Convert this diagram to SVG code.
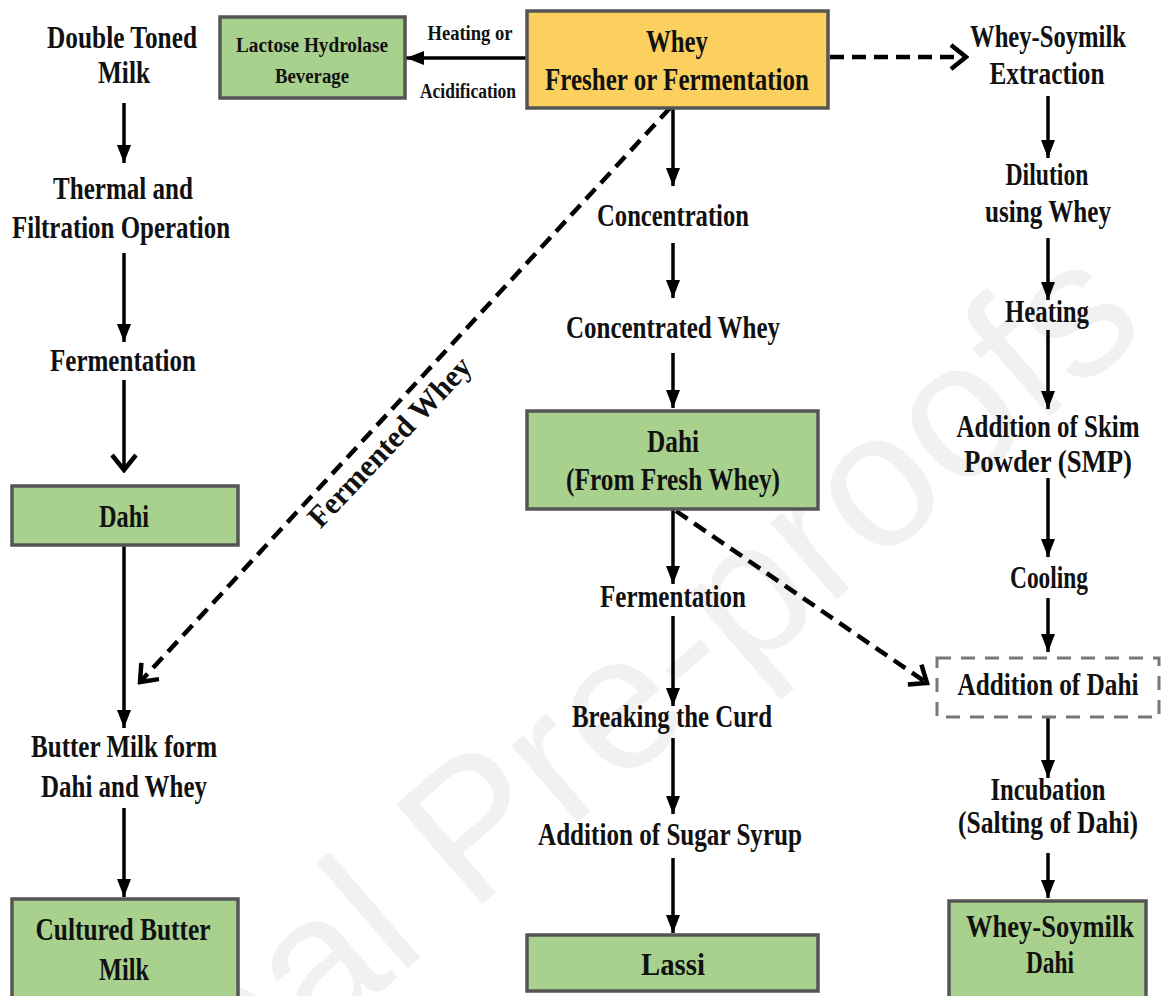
<svg xmlns="http://www.w3.org/2000/svg" width="1162" height="996" viewBox="0 0 1162 996">
<defs>
<style>
.t{font-family:"Liberation Serif","Times New Roman",serif;font-weight:bold;font-size:31px;fill:#111;text-anchor:middle}
.s{font-size:20px}
.g{fill:#a9d18e;stroke:#555;stroke-width:3.5}
.y{fill:#fbd05f;stroke:#555;stroke-width:3.5}
.a{stroke:#000;stroke-width:3.5;fill:none}
.d{stroke:#000;stroke-width:4.5;fill:none;stroke-dasharray:14 8}
.wm{font-family:"Liberation Sans",Arial,sans-serif;font-size:192px;fill:#f1f1f1}
</style>
<marker id="tri" markerUnits="userSpaceOnUse" markerWidth="18" markerHeight="14" refX="18" refY="7" orient="auto"><path d="M0,0 L18,7 L0,14 z" fill="#000"/></marker>
<marker id="chev" markerUnits="userSpaceOnUse" markerWidth="20" markerHeight="28" refX="17" refY="14" orient="auto"><path d="M2,2 L17,14 L2,26" fill="none" stroke="#000" stroke-width="4.5"/></marker>
</defs>
<rect width="1162" height="996" fill="#fff"/>
<text class="wm" x="1150" y="330" text-anchor="end" transform="rotate(-40.7 1150 330)">Journal Pre-proofs</text>

<g id="connectors">
<line class="a" x1="527" y1="58" x2="406" y2="58" marker-end="url(#tri)"/>
<line class="d" x1="830" y1="57" x2="966" y2="57" marker-end="url(#chev)"/>
<line class="d" x1="670" y1="108" x2="140" y2="682" marker-end="url(#chev)"/>
<line class="d" x1="676" y1="511" x2="927" y2="683" marker-end="url(#chev)"/>
<line class="a" x1="124" y1="103" x2="124" y2="163" marker-end="url(#tri)"/>
<line class="a" x1="124" y1="253" x2="124" y2="342" marker-end="url(#tri)"/>
<line class="a" x1="124" y1="380" x2="124" y2="470" marker-end="url(#chev)"/>
<line class="a" x1="124" y1="545" x2="124" y2="728" marker-end="url(#tri)"/>
<line class="a" x1="124" y1="808" x2="124" y2="897" marker-end="url(#tri)"/>
<line class="a" x1="673" y1="108" x2="673" y2="186" marker-end="url(#tri)"/>
<line class="a" x1="673" y1="243" x2="673" y2="298" marker-end="url(#tri)"/>
<line class="a" x1="673" y1="353" x2="673" y2="408" marker-end="url(#tri)"/>
<line class="a" x1="673" y1="510" x2="673" y2="584" marker-end="url(#tri)"/>
<line class="a" x1="673" y1="616" x2="673" y2="706" marker-end="url(#tri)"/>
<line class="a" x1="673" y1="738" x2="673" y2="814" marker-end="url(#tri)"/>
<line class="a" x1="673" y1="858" x2="673" y2="933" marker-end="url(#tri)"/>
<line class="a" x1="1048" y1="96" x2="1048" y2="158" marker-end="url(#tri)"/>
<line class="a" x1="1048" y1="238" x2="1048" y2="300" marker-end="url(#tri)"/>
<line class="a" x1="1048" y1="330" x2="1048" y2="409" marker-end="url(#tri)"/>
<line class="a" x1="1048" y1="478" x2="1048" y2="557" marker-end="url(#tri)"/>
<line class="a" x1="1048" y1="598" x2="1048" y2="652" marker-end="url(#tri)"/>
<line class="a" x1="1048" y1="718" x2="1048" y2="778" marker-end="url(#tri)"/>
<line class="a" x1="1048" y1="853" x2="1048" y2="898" marker-end="url(#tri)"/>
<text class="t" font-size="28" x="397" y="449" textLength="222" lengthAdjust="spacingAndGlyphs" transform="rotate(-46.5 397 449)">Fermented Whey</text>
<text class="t s" x="470" y="40" textLength="85" lengthAdjust="spacingAndGlyphs">Heating or</text>
<text class="t s" x="468" y="98" textLength="96" lengthAdjust="spacingAndGlyphs">Acidification</text>
</g>

<g id="double-toned-milk">
<text class="t" x="122" y="48" textLength="150" lengthAdjust="spacingAndGlyphs">Double Toned</text>
<text class="t" x="124" y="83" textLength="52" lengthAdjust="spacingAndGlyphs">Milk</text>
</g>
<g id="thermal">
<text class="t" x="123" y="199" textLength="140" lengthAdjust="spacingAndGlyphs">Thermal and</text>
<text class="t" x="121" y="238" textLength="218" lengthAdjust="spacingAndGlyphs">Filtration Operation</text>
</g>
<g id="fermentation-left">
<text class="t" x="123" y="371" textLength="146" lengthAdjust="spacingAndGlyphs">Fermentation</text>
</g>
<g id="dahi-left">
<rect class="g" x="12" y="486" width="226" height="59"/>
<text class="t" x="124" y="527" textLength="50" lengthAdjust="spacingAndGlyphs">Dahi</text>
</g>
<g id="butter-milk">
<text class="t" x="124" y="757" textLength="186" lengthAdjust="spacingAndGlyphs">Butter Milk form</text>
<text class="t" x="124" y="797" textLength="166" lengthAdjust="spacingAndGlyphs">Dahi and Whey</text>
</g>
<g id="cultured-butter-milk">
<rect class="g" x="12" y="899" width="226" height="100"/>
<text class="t" x="123" y="940" textLength="175" lengthAdjust="spacingAndGlyphs">Cultured Butter</text>
<text class="t" x="124" y="980" textLength="50" lengthAdjust="spacingAndGlyphs">Milk</text>
</g>
<g id="lactose">
<rect class="g" x="220" y="17" width="185" height="81"/>
<text class="t s" x="312" y="52" textLength="152" lengthAdjust="spacingAndGlyphs">Lactose Hydrolase</text>
<text class="t s" x="312" y="83" textLength="74" lengthAdjust="spacingAndGlyphs">Beverage</text>
</g>
<g id="whey">
<rect class="y" x="527" y="11" width="301" height="97"/>
<text class="t" x="677" y="52" textLength="62" lengthAdjust="spacingAndGlyphs">Whey</text>
<text class="t" x="677" y="90" textLength="264" lengthAdjust="spacingAndGlyphs">Fresher or Fermentation</text>
</g>
<g id="whey-soymilk-extraction">
<text class="t" x="1048" y="47" textLength="156" lengthAdjust="spacingAndGlyphs">Whey-Soymilk</text>
<text class="t" x="1047" y="84" textLength="115" lengthAdjust="spacingAndGlyphs">Extraction</text>
</g>
<g id="concentration">
<text class="t" x="673" y="226" textLength="152" lengthAdjust="spacingAndGlyphs">Concentration</text>
</g>
<g id="concentrated-whey">
<text class="t" x="673" y="338" textLength="214" lengthAdjust="spacingAndGlyphs">Concentrated Whey</text>
</g>
<g id="dahi-fresh">
<rect class="g" x="527" y="411" width="291" height="98"/>
<text class="t" x="673" y="452" textLength="52" lengthAdjust="spacingAndGlyphs">Dahi</text>
<text class="t" x="673" y="490" textLength="214" lengthAdjust="spacingAndGlyphs">(From Fresh Whey)</text>
</g>
<g id="fermentation-mid">
<text class="t" x="673" y="607" textLength="146" lengthAdjust="spacingAndGlyphs">Fermentation</text>
</g>
<g id="breaking-curd">
<text class="t" x="672" y="727" textLength="200" lengthAdjust="spacingAndGlyphs">Breaking the Curd</text>
</g>
<g id="sugar-syrup">
<text class="t" x="670" y="845" textLength="264" lengthAdjust="spacingAndGlyphs">Addition of Sugar Syrup</text>
</g>
<g id="lassi">
<rect class="g" x="527" y="935" width="291" height="56"/>
<text class="t" x="673" y="975" textLength="64" lengthAdjust="spacingAndGlyphs">Lassi</text>
</g>
<g id="dilution">
<text class="t" x="1047" y="185" textLength="83" lengthAdjust="spacingAndGlyphs">Dilution</text>
<text class="t" x="1048" y="222" textLength="126" lengthAdjust="spacingAndGlyphs">using Whey</text>
</g>
<g id="heating">
<text class="t" x="1047" y="322" textLength="84" lengthAdjust="spacingAndGlyphs">Heating</text>
</g>
<g id="skim">
<text class="t" x="1048" y="437" textLength="183" lengthAdjust="spacingAndGlyphs">Addition of Skim</text>
<text class="t" x="1048" y="472" textLength="168" lengthAdjust="spacingAndGlyphs">Powder (SMP)</text>
</g>
<g id="cooling">
<text class="t" x="1049" y="588" textLength="78" lengthAdjust="spacingAndGlyphs">Cooling</text>
</g>
<g id="addition-dahi">
<rect x="937" y="658" width="222" height="59" fill="#fff" stroke="#777" stroke-width="3" stroke-dasharray="14 10"/>
<text class="t" x="1048" y="695" textLength="181" lengthAdjust="spacingAndGlyphs">Addition of Dahi</text>
</g>
<g id="incubation">
<text class="t" x="1048" y="800" textLength="115" lengthAdjust="spacingAndGlyphs">Incubation</text>
<text class="t" x="1048" y="833" textLength="180" lengthAdjust="spacingAndGlyphs">(Salting of Dahi)</text>
</g>
<g id="whey-soymilk-dahi">
<rect class="g" x="949" y="901" width="197" height="98"/>
<text class="t" x="1050" y="937" textLength="168" lengthAdjust="spacingAndGlyphs">Whey-Soymilk</text>
<text class="t" x="1050" y="973" textLength="48" lengthAdjust="spacingAndGlyphs">Dahi</text>
</g>
</svg>
